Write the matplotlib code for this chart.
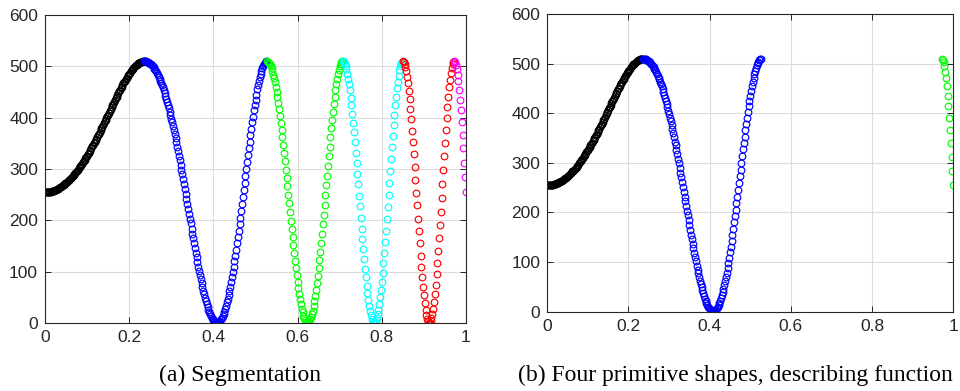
import numpy as np
import matplotlib.pyplot as plt

# sample spacing along the normalised axis
dx = 0.002

# signal samples, split into the segments found between peaks
seg_rise = [255, 255, 255, 255, 255, 256, 256, 256, 257, 257,
            258, 258, 259, 260, 261, 261, 262, 263, 264, 265,
            267, 268, 269, 270, 272, 273, 274, 276, 278, 279,
            281, 283, 284, 286, 288, 290, 292, 294, 296, 299,
            301, 303, 306, 308, 310, 313, 315, 318, 321, 323,
            326, 329, 332, 335, 338, 341, 344, 347, 350, 353,
            356, 359, 362, 366, 369, 372, 376, 379, 382, 386,
            389, 393, 396, 400, 403, 406, 410, 413, 417, 420,
            424, 427, 431, 434, 438, 441, 444, 448, 451, 454,
            457, 460, 463, 467, 469, 472, 475, 478, 481, 483,
            486, 488, 490, 493, 495, 497, 499, 500, 502, 503,
            505, 506, 507, 508, 509, 509, 510, 510]
seg_wave1 = [510, 510,
             510, 509, 508, 507, 506, 505, 504, 502, 500, 498,
             495, 493, 490, 487, 483, 480, 476, 472, 468, 463,
             459, 454, 448, 443, 437, 431, 425, 419, 412, 405,
             398, 391, 384, 376, 368, 360, 352, 343, 335, 326,
             317, 308, 299, 290, 280, 271, 261, 252, 242, 232,
             223, 213, 203, 194, 184, 174, 165, 155, 146, 137,
             128, 119, 110, 102, 93, 85, 77, 70, 62, 56,
             49, 43, 37, 31, 26, 21, 17, 13, 10, 7,
             5, 3, 1, 0, 0, 0, 1, 2, 4, 7,
             10, 13, 17, 22, 27, 33, 40, 46, 54, 62,
             70, 79, 89, 99, 109, 120, 131, 143, 155, 167,
             180, 192, 205, 219, 232, 245, 259, 273, 286, 300,
             313, 327, 340, 353, 366, 378, 391, 402, 414, 425,
             435, 445, 455, 463, 471, 479, 485, 491, 497, 501,
             504, 507, 509, 510]
seg_wave2 = [510, 509, 507, 504, 501, 496,
             491, 484, 477, 469, 460, 450, 440, 428, 416, 403,
             390, 376, 362, 346, 331, 315, 299, 283, 266, 249,
             233, 216, 199, 183, 167, 151, 136, 121, 107, 93,
             80, 68, 57, 46, 37, 28, 21, 14, 9, 5,
             2, 0, 0, 1, 3, 7, 11, 17, 24, 33,
             42, 53, 65, 78, 92, 107, 122, 139, 156, 174,
             192, 211, 229, 249, 268, 287, 306, 325, 343, 362,
             379, 396, 412, 427, 441, 454, 466, 476, 486, 493,
             500, 505, 508, 510]
seg_wave3 = [510, 508, 505, 500, 494, 486,
             476, 465, 453, 439, 424, 407, 390, 372, 352, 332,
             312, 291, 270, 248, 227, 205, 184, 164, 144, 124,
             106, 89, 73, 58, 45, 33, 23, 15, 8, 3,
             1, 0, 1, 5, 10, 17, 26, 37, 50, 64,
             80, 98, 117, 137, 158, 180, 203, 226, 249, 273,
             296, 319, 342, 364, 385, 405, 424, 441, 457, 470,
             482, 492, 500, 506, 509]
seg_wave4 = [510, 509, 505, 499, 490,
             480, 467, 452, 436, 417, 397, 375, 353, 329, 304,
             279, 254, 229, 203, 179, 155, 131, 110, 89, 70,
             54, 39, 26, 16, 8, 3, 0, 0, 3, 9,
             17, 28, 41, 57, 75, 95, 117, 140, 165, 190,
             217, 244, 271, 298, 325, 351, 376, 399, 421, 441,
             459, 474, 487, 497, 504, 509]
seg_tail = [510, 508, 503, 495,
            484, 471, 454, 435, 414, 391, 366, 340, 312, 284,
            255]

segments = [seg_rise, seg_wave1, seg_wave2, seg_wave3, seg_wave4, seg_tail]
colors_a = ['#000000', '#0000ff', '#00ff00', '#00ffff', '#ff0000', '#ff00ff']

# panel (b) keeps the first two shapes and the last one
keep_b = [0, 1, 5]
colors_b = ['#000000', '#0000ff', '#00ff00']

x_ticks = [0, 0.2, 0.4, 0.6, 0.8, 1]
x_labels = ['0', '0.2', '0.4', '0.6', '0.8', '1']
y_ticks = [0, 100, 200, 300, 400, 500, 600]

starts = np.cumsum([0] + [len(s) for s in segments[:-1]])
xs = [(st + np.arange(len(s))) * dx for st, s in zip(starts, segments)]

plt.rcParams['font.family'] = ['Liberation Sans', 'DejaVu Sans']

fig = plt.figure(figsize=(9.6, 3.91), dpi=100)
ax_a = fig.add_axes([0.0469, 0.1739, 0.4385, 0.7877])
ax_b = fig.add_axes([0.5701, 0.2028, 0.4229, 0.7614])


def style(ax):
    ax.set_xlim(0, 1)
    ax.set_ylim(0, 600)
    ax.set_xticks(x_ticks)
    ax.set_xticklabels(x_labels)
    ax.set_yticks(y_ticks)
    ax.grid(True, color='#dcdcdc', linewidth=0.8)
    ax.set_axisbelow(True)
    ax.tick_params(direction='in', length=4, width=0.7, top=True, right=True,
                   labelsize=12.5, colors='#262626', pad=5)
    for sp in ax.spines.values():
        sp.set_color('#262626')
        sp.set_linewidth(0.8)


for x, s, c in zip(xs, segments, colors_a):
    ax_a.plot(x, s, 'o', mfc='none', mec=c, ms=4.8, mew=0.85)
style(ax_a)

for k, c in zip(keep_b, colors_b):
    ax_b.plot(xs[k], segments[k], 'o', mfc='none', mec=c, ms=4.8, mew=0.85)
style(ax_b)

fig.text(0.25, 1 - 375 / 391, '(a) Segmentation', ha='center', va='center',
         family='Liberation Serif', fontsize=17)
fig.text(0.7665, 1 - 375 / 391, '(b) Four primitive shapes, describing function',
         ha='center', va='center', family='Liberation Serif', fontsize=17)

fig.savefig('out.png', dpi=100)
